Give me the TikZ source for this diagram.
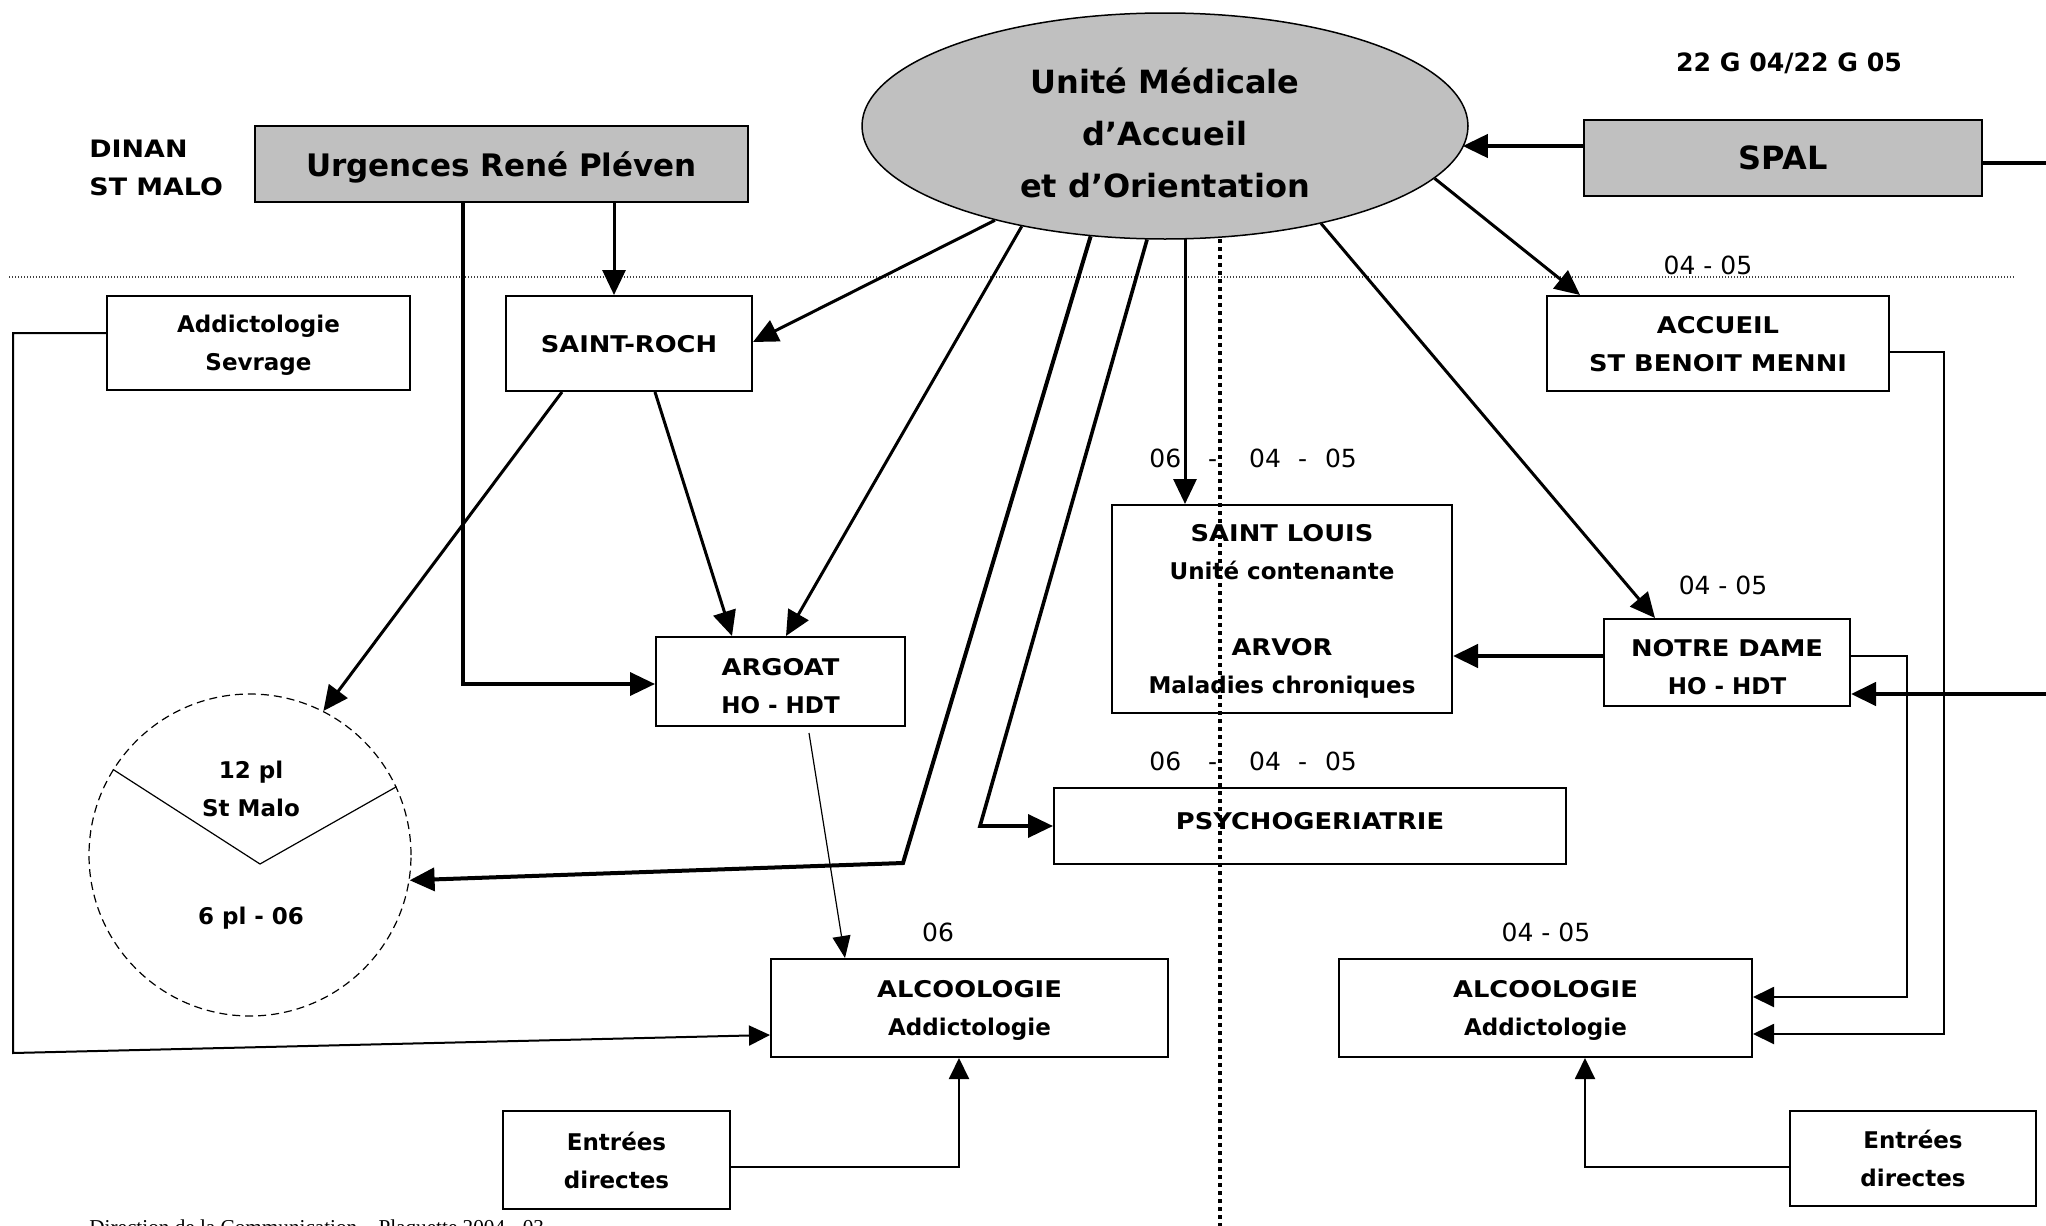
\documentclass[tikz,border=0pt]{standalone}
\usepackage{fontspec}
\setmainfont{DejaVu Sans}
\newfontfamily\widecapsfont[FakeStretch=1.12]{DejaVu Sans}
\newfontfamily\footfont{Liberation Serif}
\newcommand{\capw}[1]{{\widecapsfont #1}}
\usetikzlibrary{arrows.meta,shapes.geometric,calc}
\definecolor{boxgray}{RGB}{192,192,192}
\begin{document}
\begin{tikzpicture}[x=0.5pt,y=-0.5pt,
  box/.style={draw, line width=1pt, rectangle, inner sep=0pt, align=center, text depth=0pt,
    font=\bfseries\fontsize{11.5}{19}\selectfont},
  graybox/.style={box, fill=boxgray, font=\bfseries\fontsize{16}{19}\selectfont},
  plain/.style={inner sep=0pt, align=center, font=\bfseries\fontsize{11.5}{19}\selectfont},
  num/.style={inner sep=0pt, font=\fontsize{12.5}{15}\selectfont},
  conn/.style={line width=1.5pt, -{Triangle[length=12.5pt,width=11.5pt]}},
  connb/.style={line width=1pt, -{Triangle[length=10.5pt,width=10pt]}},
  thinconn/.style={line width=0.6pt, -{Triangle[length=11pt,width=9pt]}}
]
\useasboundingbox (0,0) rectangle (2046,1226);

% main nodes
\node[ellipse, draw, fill=boxgray, line width=0.75pt, minimum width=303pt, minimum height=113pt, inner sep=0pt] (uma) at (1165,126) {};
\node[inner sep=0pt, align=center, font=\bfseries\fontsize{16}{26}\selectfont] (umatext) at (1165,133) {Unité Médicale\\d’Accueil\\et d’Orientation};

\node[graybox, minimum width=246.5pt, minimum height=38pt, font=\bfseries\fontsize{15.5}{19}\selectfont] (urg) at (501.5,164) {Urgences René Pléven};
\node[graybox, minimum width=199pt, minimum height=38pt] (spal) at (1783,158) {SPAL};

\node[box, minimum width=151.5pt, minimum height=47pt] (sevr) at (258.5,343) {Addictologie\\Sevrage};
\node[box, minimum width=123pt, minimum height=47.5pt] (sroch) at (629,343.5) {\capw{SAINT-ROCH}};
\node[box, minimum width=171pt, minimum height=47.5pt] (accueil) at (1718,343.5) {\capw{ACCUEIL}\\\capw{ST BENOIT MENNI}};
\node[box, minimum width=124.5pt, minimum height=44.5pt] (argoat) at (780.5,681.5) {\rule{0pt}{13.4pt}\capw{ARGOAT}\\HO - HDT};
\node[box, minimum width=170pt, minimum height=104pt] (slouis) at (1282,609) {\capw{SAINT LOUIS}\\Unité contenante\\[19pt]\capw{ARVOR}\\Maladies chroniques};
\node[box, minimum width=123pt, minimum height=43.5pt] (ndame) at (1727,662.5) {\rule{0pt}{13.4pt}\capw{NOTRE DAME}\\HO - HDT};
\node[box, text depth=5pt, minimum width=256pt, minimum height=38pt] (psycho) at (1310,826) {\capw{PSYCHOGERIATRIE}};
\node[box, minimum width=198.5pt, minimum height=49pt] (alcL) at (969.5,1008) {\capw{ALCOOLOGIE}\\Addictologie};
\node[box, minimum width=206.5pt, minimum height=49pt] (alcR) at (1545.5,1008) {\capw{ALCOOLOGIE}\\Addictologie};
\node[box, minimum width=113.5pt, minimum height=49pt] (entL) at (616.5,1160) {Entrées\\directes};
\node[box, minimum width=123pt, minimum height=47.5pt] (entR) at (1913,1158.5) {Entrées\\directes};

% dashed circle
\node[circle, draw, line width=0.6pt, dash pattern=on 4pt off 2.5pt, minimum size=161pt, inner sep=0pt] (circ) at (250,855) {};
\coordinate (vtip) at (260,864);
\draw[line width=0.6pt] (circ.148.4) -- (vtip) -- (circ.25.3);
\node[plain] (c1) at (251,789) {12 pl\\St Malo};
\node[plain] (c2) at (251,918) {6 pl - 06};

% free labels
\node[plain, anchor=west, align=left, font=\bfseries\fontsize{12}{19}\selectfont] (dinan) at (89,168) {\capw{DINAN}\\\capw{ST MALO}};
\node[plain, font=\bfseries\fontsize{12.6}{15}\selectfont] (code) at (1789,63) {22 G 04/22 G 05};
\node[num] (n1) at (1708,265) {04 - 05};
\node[num] (n2) at (1723,585) {04 - 05};
\node[num] (n3) at (938,932) {06};
\node[num] (n4) at (1546,932) {04 - 05};
\node[num, anchor=west] (n5) at (1149,458) {06\hspace{13.5pt}-\hspace{16pt}04\hspace{8.5pt}-\hspace{9pt}05};
\node[num, anchor=west] (n6) at (1149,761) {06\hspace{13.5pt}-\hspace{16pt}04\hspace{8.5pt}-\hspace{9pt}05};
\node[inner sep=0pt, anchor=base west, font=\footfont\fontsize{10.6}{12}\selectfont] (foot) at (89,1234) {Direction de la Communication – Plaquette 2004 - 03};
\node[inner sep=0pt, anchor=base, font=\footfont\fontsize{10.6}{12}\selectfont] (pg) at (1948,1240) {11};

% horizontal dotted separator
\coordinate (hl1) at (9,277);
\coordinate (hl2) at (2015,277);
\draw[line width=0.6pt, dash pattern=on 0.6pt off 0.9pt, black!75] (hl1) -- (hl2);

% connectors
\draw[conn] ($(urg.south west)+(360,0)$) -- ($(sroch.north west)+(109,0)$);
\draw[conn, line width=1.8pt] ($(urg.south west)+(209,0)$) |- ($(argoat.west)+(0,2.5)$);
\draw[conn] (uma.-151.3) -- ($(sroch.east)+(0,-1.5)$);
\draw[conn] (uma.-11.9) -- ($(accueil.north west)+(34,0)$);
\draw[conn] ($(sroch.south west)+(57,0)$) -- (circ.63.9);
\draw[conn] ($(sroch.south west)+(150,0)$) -- ($(argoat.north west)+(77,0)$);
\draw[conn] (uma.-145.2) -- ($(argoat.north west)+(131,0)$);
\coordinate (bendc) at (903,863);
\draw[conn, line width=2pt] (uma.-124) -- (bendc) -- (circ.-9.4);
\coordinate (bendp) at (980,826);
\draw[conn, line width=1.8pt] (uma.-99.8) -- (bendp) -- (psycho.west);
\draw[conn] (uma.-80.7) -- (uma.-80.7 |- slouis.north);
\draw[conn] (uma.-32) -- ($(ndame.north west)+(52,0)$);
\coordinate (spalout) at ($(spal.west)+(0,-12)$);
\draw[conn, line width=2pt] (spalout) -- ($(spalout -| uma.east)+(-6,0)$);
\coordinate (spalexit) at (2046,163);
\draw[line width=2pt] ($(spal.east)+(0,5)$) -- (spalexit);
\coordinate (ndin) at (2046,694);
\draw[conn, line width=2.2pt] (ndin) -- (ndin -| ndame.east);
\coordinate (nd1) at ($(ndame.west)+(0,-6.5)$);
\draw[conn, line width=2.2pt] (nd1) -- (nd1 -| slouis.east);
\coordinate (nd2) at ($(ndame.east)+(0,-6.5)$);
\coordinate (nd2b) at (1907,997);
\draw[connb] (nd2) -| (nd2b) -- (nd2b -| alcR.east);
\coordinate (ac1) at ($(accueil.east)+(0,8.5)$);
\coordinate (ac1b) at (1944,1034);
\draw[connb] (ac1) -| (ac1b) -- (ac1b -| alcR.east);
\draw[thinconn] ($(argoat.south west)+(154,6)$) -- ($(alcL.north west)+(75,0)$);
\coordinate (sv1) at ($(sevr.west)+(0,-10)$);
\coordinate (sv2) at (13,1053);
\draw[connb] (sv1) -| (sv2) -- ($(alcL.west)+(0,27)$);
\coordinate (el1) at ($(entL.east)+(0,7)$);
\draw[connb] (el1) -| ($(alcL.south west)+(189,0)$);
\coordinate (er1) at ($(entR.west)+(0,8.5)$);
\draw[connb] (er1) -| ($(alcR.south west)+(247,0)$);

% vertical dotted separator
\coordinate (vl1) at (1220,239);
\coordinate (vl2) at (1220,1226);
\draw[line width=1.6pt, dash pattern=on 2pt off 2pt] (vl1) -- (vl2);
\end{tikzpicture}
\end{document}
